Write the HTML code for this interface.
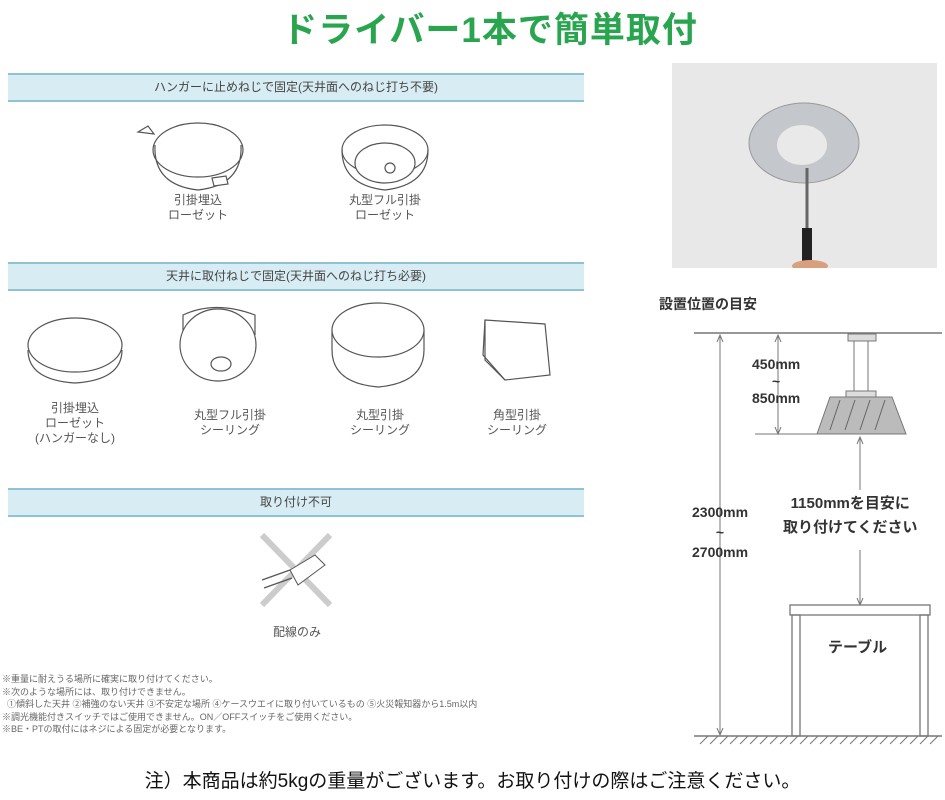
<!DOCTYPE html>
<html><head><meta charset="utf-8"><style>
body{margin:0;width:945px;height:800px;background:#fff;position:relative;overflow:hidden;font-family:"Liberation Sans","Noto Sans CJK JP",sans-serif}
.a{position:absolute;white-space:nowrap}
.band{position:absolute;left:8px;width:576px;height:25px;background:#d8ecf3;border-top:2px solid #8ec3d3;border-bottom:2px solid #8ec3d3;text-align:center;font-size:12px;line-height:25px;color:#444}
.lb{position:absolute;text-align:center;font-size:12px;line-height:15px;color:#555;transform:translateX(-50%)}
</style></head><body>
<div class="a" style="left:0;width:980px;top:2px;text-align:center;font-size:35px;font-weight:bold;color:#2aa54f;letter-spacing:1px">ドライバー1本で簡単取付</div>

<div class="band" style="top:73px">ハンガーに止めねじで固定(天井面へのねじ打ち不要)</div>
<div class="band" style="top:262px">天井に取付ねじで固定(天井面へのねじ打ち必要)</div>
<div class="band" style="top:488px">取り付け不可</div>

<svg class="a" style="left:0;top:0" width="600" height="660" fill="#fff" stroke="#555" stroke-width="1.2">
<ellipse cx="198" cy="150" rx="45" ry="27"/>
<path d="M155 145 Q153 185 198 190 Q243 185 241 145" fill="none"/>
<path d="M138 132 l10 -6 l6 8 z"/><path d="M212 178 l14 -2 l2 8 l-14 2z"/>
<ellipse cx="385" cy="150" rx="43" ry="25"/>
<ellipse cx="385" cy="163" rx="30" ry="20"/>
<path d="M342 150 Q342 185 385 190 Q428 185 428 150" fill="none"/>
<circle cx="390" cy="168" r="5"/>
<path d="M28 350 Q28 380 75 383 Q122 380 122 350" fill="none"/><ellipse cx="75" cy="345" rx="47" ry="27"/>
<path d="M183 335 L183 315 Q215 300 255 315 L255 335" /><ellipse cx="218" cy="345" rx="38" ry="36" transform="rotate(0)"/>
<ellipse cx="221" cy="364" rx="10" ry="7"/>
<path d="M332 330 L332 350 Q332 383 378 387 Q424 383 424 350 L424 330" /><ellipse cx="378" cy="330" rx="46" ry="27"/>
<path d="M485 320 L545 324 L550 375 L505 380 L485 360z"/><path d="M485 320 L483 355 L505 380" fill="none"/>
<line x1="262" y1="535" x2="330" y2="605" stroke="#ccc" stroke-width="6"/>
<line x1="330" y1="535" x2="262" y2="605" stroke="#ccc" stroke-width="6"/>
<path d="M290 570 L315 555 L325 565 L298 585z" stroke-width="1"/>
<path d="M262 580 L290 570 M264 588 L292 578" fill="none"/>
</svg>

<div class="lb" style="left:198px;top:193px">引掛埋込<br>ローゼット</div>
<div class="lb" style="left:385px;top:193px">丸型フル引掛<br>ローゼット</div>
<div class="lb" style="left:75px;top:401px">引掛埋込<br>ローゼット<br>(ハンガーなし)</div>
<div class="lb" style="left:230px;top:408px">丸型フル引掛<br>シーリング</div>
<div class="lb" style="left:380px;top:408px">丸型引掛<br>シーリング</div>
<div class="lb" style="left:517px;top:408px">角型引掛<br>シーリング</div>
<div class="lb" style="left:297px;top:625px">配線のみ</div>

<div class="a" style="left:2px;top:673px;font-size:9px;line-height:12.5px;color:#666">※重量に耐えうる場所に確実に取り付けてください。<br>※次のような場所には、取り付けできません。<br>&nbsp;&nbsp;①傾斜した天井 ②補強のない天井 ③不安定な場所 ④ケースウエイに取り付いているもの ⑤火災報知器から1.5m以内<br>※調光機能付きスイッチではご使用できません。ON／OFFスイッチをご使用ください。<br>※BE・PTの取付にはネジによる固定が必要となります。</div>

<div class="a" style="left:672px;top:63px;width:265px;height:205px;background:#e8e8e8"></div>
<svg class="a" style="left:672px;top:63px" width="265" height="205">
<ellipse cx="132" cy="80" rx="55" ry="40" fill="#c4c8cc" stroke="#999"/>
<ellipse cx="130" cy="82" rx="25" ry="20" fill="#e9e9e9"/>
<line x1="135" y1="105" x2="135" y2="165" stroke="#666" stroke-width="3"/>
<rect x="130" y="165" width="10" height="35" fill="#222"/>
<ellipse cx="138" cy="203" rx="18" ry="6" fill="#d9a080"/>
</svg>

<div class="a" style="left:659px;top:294px;font-size:14px;font-weight:bold;color:#333">設置位置の目安</div>
<svg class="a" style="left:680px;top:320px" width="265" height="430" stroke="#777" fill="none">
<line x1="14" y1="13" x2="262" y2="13" stroke-width="1.5"/>
<line x1="40" y1="16" x2="40" y2="414"/><path d="M37 22 L40 15 L43 22 M37 408 L40 415 L43 408"/>
<line x1="98" y1="16" x2="98" y2="113"/><path d="M95 22 L98 15 L101 22 M95 107 L98 114 L101 107"/>
<line x1="75" y1="114" x2="137" y2="114"/>
<rect x="168" y="14" width="28" height="7" fill="#ddd"/>
<rect x="174" y="21" width="14" height="50" fill="#fff"/>
<rect x="166" y="71" width="30" height="6" fill="#ddd"/>
<path d="M150 77 L212 77 L226 114 L137 114z" fill="#bbb"/>
<path d="M150 110 L160 80 M165 110 L175 80 M180 110 L190 80 M195 110 L205 80" stroke="#666"/>
<line x1="180" y1="118" x2="180" y2="170"/><path d="M177 124 L180 117 L183 124"/>
<line x1="180" y1="230" x2="180" y2="284"/><path d="M177 278 L180 285 L183 278"/>
<rect x="110" y="285" width="140" height="10" fill="#fff" stroke-width="1.3"/>
<rect x="112" y="295" width="8" height="121" stroke-width="1.3"/>
<rect x="240" y="295" width="8" height="121" stroke-width="1.3"/>
<line x1="14" y1="416" x2="262" y2="416" stroke-width="1.5"/>
<path d="M20 424l8-8M30 424l8-8M40 424l8-8M50 424l8-8M60 424l8-8M70 424l8-8M80 424l8-8M90 424l8-8M100 424l8-8M110 424l8-8M120 424l8-8M130 424l8-8M140 424l8-8M150 424l8-8M160 424l8-8M170 424l8-8M180 424l8-8M190 424l8-8M200 424l8-8M210 424l8-8M220 424l8-8M230 424l8-8M240 424l8-8M250 424l8-8"/>
</svg>
<div class="a" style="left:752px;top:356px;font-size:14px;font-weight:bold;color:#333;text-align:center;line-height:17px">450mm<br>~<br>850mm</div>
<div class="a" style="left:692px;top:502px;font-size:14px;font-weight:bold;color:#333;text-align:center;line-height:20px">2300mm<br>~<br>2700mm</div>
<div class="a" style="left:783px;top:492px;font-size:15px;font-weight:bold;color:#333;line-height:24px;text-align:center">1150mmを目安に<br>取り付けてください</div>
<div class="a" style="left:828px;top:636px;font-size:15px;font-weight:bold;color:#333">テーブル</div>

<div class="a" style="left:0;width:945px;top:766px;text-align:center;font-size:19px;color:#111">注）本商品は約5kgの重量がございます。お取り付けの際はご注意ください。</div>
</body></html>
